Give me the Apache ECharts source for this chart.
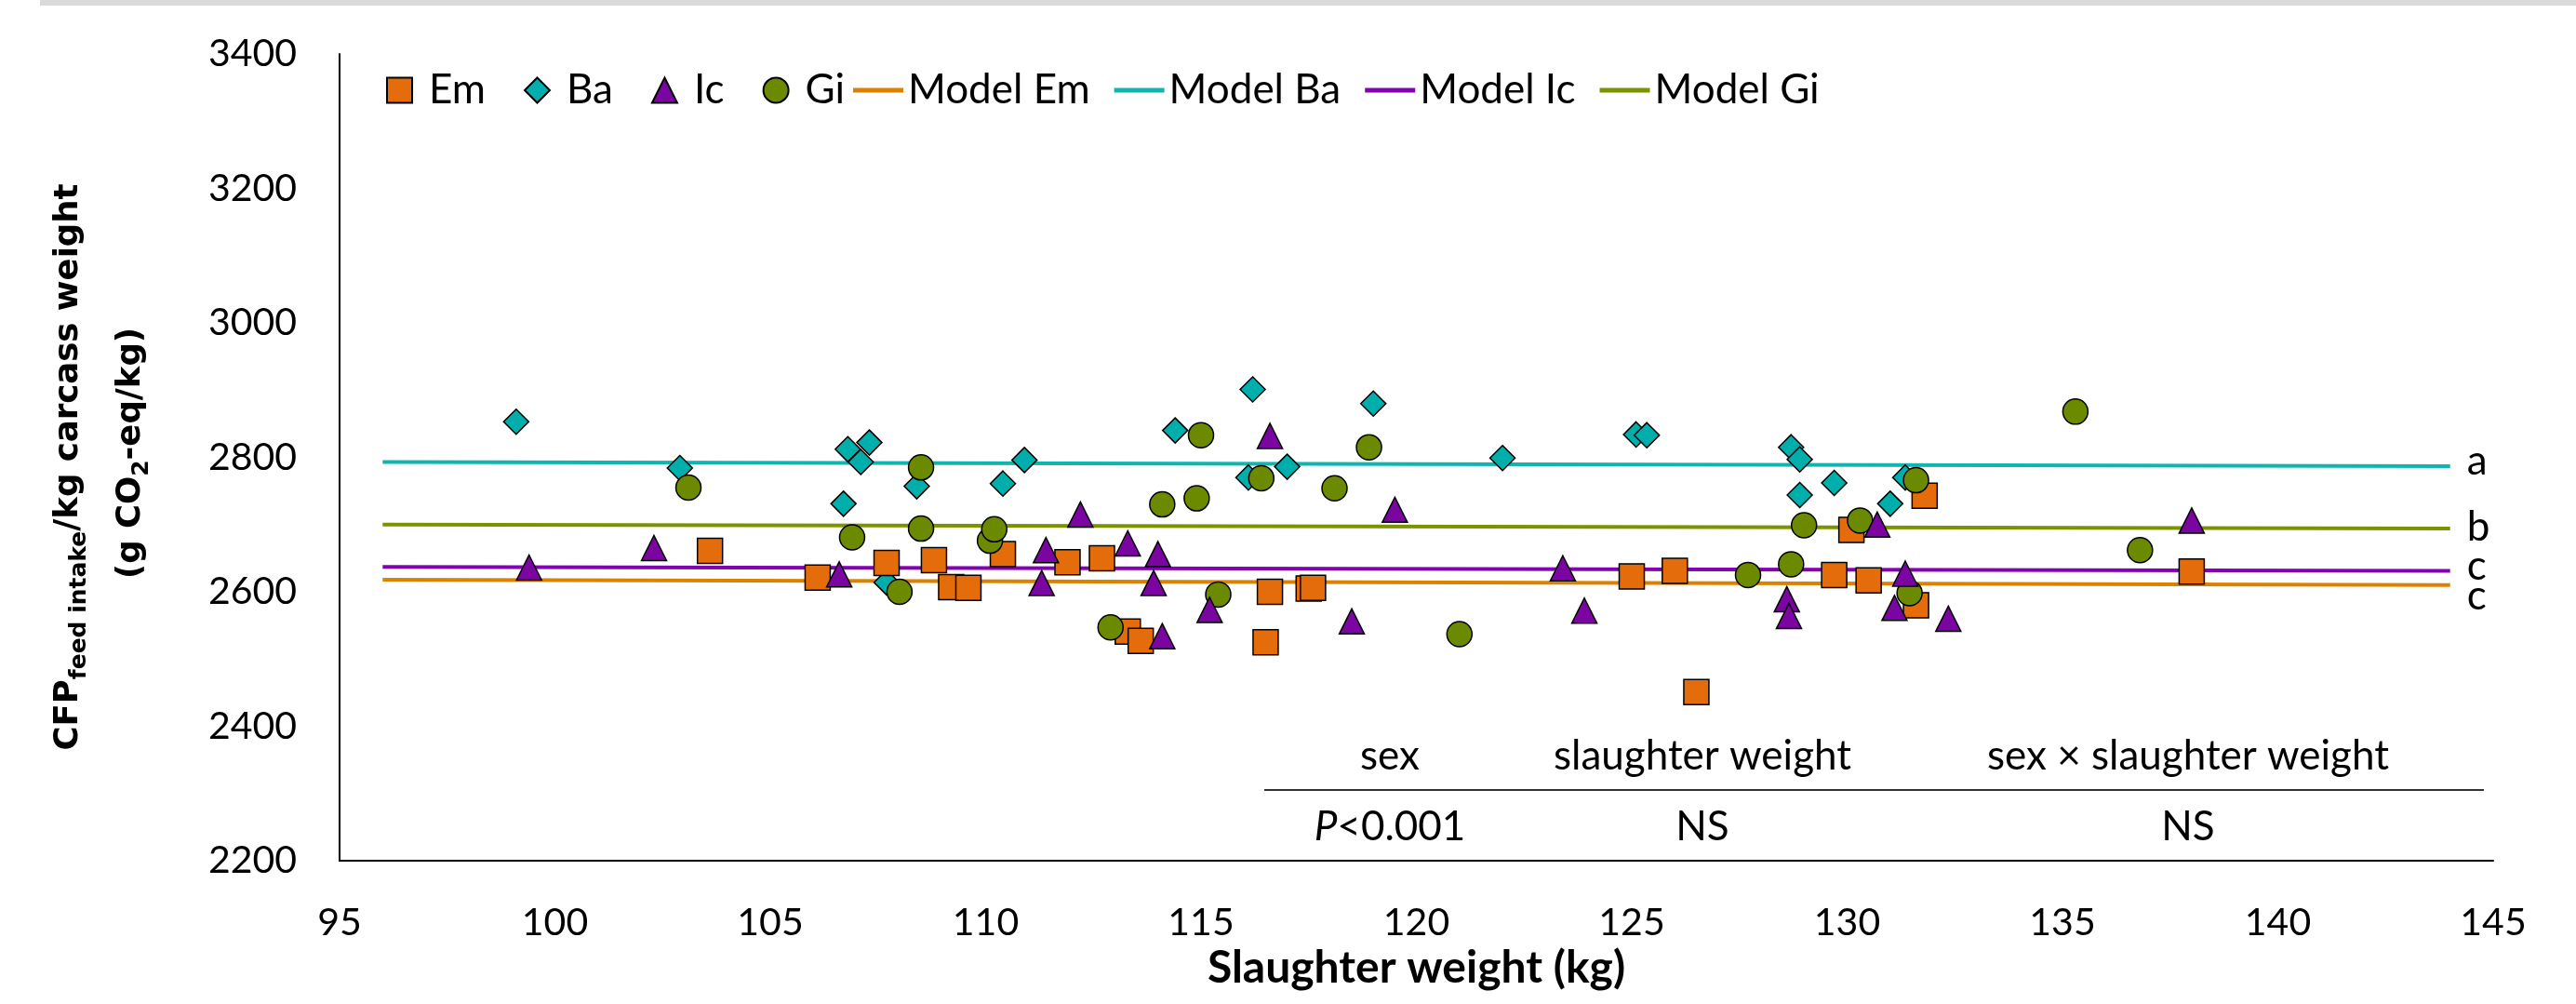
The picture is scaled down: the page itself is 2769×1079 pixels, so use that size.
<!DOCTYPE html>
<html>
<head>
<meta charset="utf-8">
<title>CFP feed intake per kg carcass weight</title>
<script src="https://cdn.jsdelivr.net/npm/echarts@6/dist/echarts.min.js"></script>
<style>
    html, body {margin: 0; padding: 0; background: #fff;}
    #chart {width: 2769px; height: 1079px;}
</style>
</head>
<body>
<div id="chart"></div>
<script>
"use strict";

// observed animals: [slaughter weight (kg), CFP (g CO2-eq/kg)]
var emPoints = [
    [103.6, 2661], [106.1, 2621], [107.7, 2643], [108.8, 2647], [109.2, 2607], [109.6, 2606],
    [110.4, 2656], [111.9, 2644], [112.7, 2650], [113.3, 2541], [113.6, 2527], [116.5, 2525],
    [116.6, 2600], [117.5, 2605], [117.6, 2606], [125.0, 2623], [126.0, 2631], [126.5, 2451],
    [129.7, 2625], [130.1, 2692], [130.5, 2617], [131.6, 2580], [131.8, 2743], [138.0, 2630]
];
var baPoints = [
    [99.1, 2853], [102.9, 2784], [106.7, 2731], [106.8, 2812], [107.1, 2793], [107.3, 2822],
    [107.7, 2614], [108.4, 2757], [110.4, 2761], [110.9, 2796], [114.4, 2840], [116.1, 2770],
    [116.2, 2901], [117.0, 2786], [119.0, 2880], [122.0, 2799], [125.1, 2834], [125.35, 2833],
    [128.7, 2815], [128.9, 2797], [128.9, 2744], [129.7, 2762], [131.0, 2731], [131.35, 2770]
];
var icPoints = [
    [99.4, 2636], [102.3, 2665], [106.6, 2626], [111.3, 2613], [111.4, 2662], [112.2, 2715],
    [113.3, 2672], [113.9, 2613], [114.0, 2656], [114.1, 2534], [115.2, 2573], [116.6, 2832],
    [118.5, 2556], [119.5, 2722], [123.4, 2635], [123.9, 2572], [128.6, 2589], [128.65, 2564],
    [130.7, 2700], [131.1, 2576], [131.35, 2627], [132.35, 2560], [138.0, 2706]
];
var giPoints = [
    [103.1, 2755], [106.9, 2681], [108.0, 2600], [108.5, 2785], [108.5, 2694], [110.1, 2676],
    [110.2, 2693], [112.9, 2547], [114.1, 2730], [114.9, 2739], [115.0, 2833], [115.4, 2596],
    [116.4, 2769], [118.1, 2754], [118.9, 2815], [121.0, 2537], [127.7, 2625], [128.7, 2641],
    [129.0, 2699], [130.3, 2706], [131.45, 2598], [131.6, 2766], [135.3, 2868], [136.8, 2662]
];

// model lines (start / end of fitted range)
var modelX = [96, 144];
var modelEm = [2618, 2610];
var modelBa = [2793, 2787];
var modelIc = [2637, 2631];
var modelGi = [2700, 2694];

// significance letters at the right end of the model lines
var groupNames = ["Em", "Ba", "Ic", "Gi"];
var groupLetters = ["c", "a", "c", "b"];

// axes
var xMin = 95, xMax = 145, xStep = 5;
var yMin = 2200, yMax = 3400, yStep = 200;

// effects table under the points
var effectNames = ["sex", "slaughter weight", "sex × slaughter weight"];
var effectResults = ["{i|P}<0.001", "NS", "NS"];

var markerColors = {Em: "#e46c0a", Ba: "#00afab", Ic: "#7a05a0", Gi: "#6c8a00"};
var lineColors = {Em: "#db8200", Ba: "#10b5b0", Ic: "#8303b3", Gi: "#7a9400"};
var symbols = {Em: "rect", Ba: "diamond", Ic: "triangle", Gi: "circle"};
var letterOffsets = {Em: 12, Ba: -5, Ic: -5, Gi: -1};

var FONT = "Lato";

function pair(xs, ys) {
    return xs.map(function (x, i) {
        return [x, ys[i]];
    });
}

function scatterSeries(name, data) {
    return {
        name: name, type: "scatter", data: data,
        symbol: symbols[name], symbolSize: 27,
        itemStyle: {color: markerColors[name], borderColor: "#000", borderWidth: 1.5, opacity: 1},
        z: 3
    };
}

function modelSeries(name, ys) {
    var g = name.replace("Model ", "");
    return {
        name: name, type: "line", data: pair(modelX, ys),
        symbol: "none", silent: true, z: 1,
        lineStyle: {color: lineColors[g], width: 4},
        itemStyle: {color: lineColors[g]},
        endLabel: {
            show: true, formatter: groupLetters[groupNames.indexOf(g)],
            fontFamily: FONT, fontSize: 44, color: "#000",
            distance: 18, offset: [0, letterOffsets[g]]
        }
    };
}

// rotated axis title line; y compensates for the rich-text width measure
function titleText(x, y, text) {
    return {
        type: "text", x: x, y: y, rotation: Math.PI / 2,
        style: {
            text: text, align: "center", verticalAlign: "middle", fill: "#000",
            rich: {
                b: {fontFamily: "DejaVu Sans", fontWeight: "bold", fontSize: 35.5, lineHeight: 48},
                s: {fontFamily: "DejaVu Sans", fontWeight: "bold", fontSize: 25, lineHeight: 18, verticalAlign: "bottom"}
            }
        }
    };
}

var chart = echarts.init(document.getElementById("chart"), null, {renderer: "canvas"});

var textStyle = {fontFamily: FONT, fontSize: 44, color: "#000"};
var tableCenters = [1494, 1830, 2352];

var graphics = [
    {type: "rect", shape: {x: 43, y: 0, width: 2726, height: 6}, style: {fill: "#d9d9d9"}, silent: true},
    titleText(74, 502, "{b|CFP}{s|feed intake}{b|/kg carcass weight}"),
    titleText(141, 487, "{b|(g CO}{s|2}{b|-eq/kg)}"),
    {type: "line", shape: {x1: 1359, y1: 849, x2: 2670, y2: 849}, style: {stroke: "#333", lineWidth: 2}, silent: true}
];
effectNames.forEach(function (t, i) {
    graphics.push({
        type: "text", x: tableCenters[i], y: 813,
        style: {text: t, fontFamily: FONT, fontSize: 44, fill: "#000", align: "center", verticalAlign: "middle"}
    });
    graphics.push({
        type: "text", x: tableCenters[i], y: 889,
        style: {
            text: effectResults[i], fontFamily: FONT, fontSize: 44, fill: "#000", align: "center", verticalAlign: "middle",
            rich: {i: {fontFamily: FONT, fontSize: 44, fontStyle: "italic"}}
        }
    });
});

var option = {
    animation: false,
    backgroundColor: "#fff",
    grid: {left: 365, right: 89, top: 58, bottom: 154, containLabel: false, outerBoundsMode: "none"},
    legend: [
        {
            data: groupNames, left: 410, top: 70, itemWidth: 27, itemHeight: 27, itemGap: 41,
            textStyle: {fontFamily: FONT, fontSize: 44, color: "#000", padding: [0, 0, 0, 13]}
        },
        {
            data: groupNames.map(function (g) { return "Model " + g; }),
            left: 912, top: 70, icon: "rect", itemWidth: 54, itemHeight: 5, itemGap: 26,
            textStyle: textStyle
        }
    ],
    xAxis: {
        type: "value", min: xMin, max: xMax, interval: xStep,
        axisLine: {show: true, onZero: false, lineStyle: {color: "#000", width: 2}},
        axisTick: {show: false}, splitLine: {show: false},
        axisLabel: {fontFamily: FONT, fontSize: 41, color: "#000", margin: 46},
        name: "Slaughter weight (kg)", nameLocation: "middle", nameGap: 92,
        nameTextStyle: {fontFamily: FONT, fontWeight: "bold", fontSize: 48, color: "#000"}
    },
    yAxis: {
        type: "value", min: yMin, max: yMax, interval: yStep,
        axisLine: {show: true, lineStyle: {color: "#000", width: 2}},
        axisTick: {show: false}, splitLine: {show: false},
        axisLabel: {
            fontFamily: FONT, fontSize: 41, color: "#000", margin: 46,
            formatter: function (v) { return String(v); }
        }
    },
    graphic: graphics,
    series: [
        scatterSeries("Ba", baPoints),
        scatterSeries("Em", emPoints),
        scatterSeries("Gi", giPoints),
        scatterSeries("Ic", icPoints),
        modelSeries("Model Em", modelEm),
        modelSeries("Model Ba", modelBa),
        modelSeries("Model Ic", modelIc),
        modelSeries("Model Gi", modelGi)
    ]
};

chart.setOption(option);
</script>
</body>
</html>
